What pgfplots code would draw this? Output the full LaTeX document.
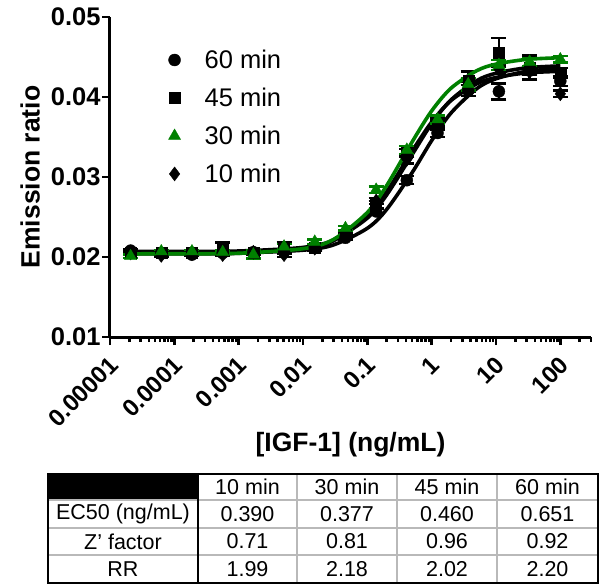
\documentclass[border=0pt]{standalone}
\usepackage{fontspec}
\setmainfont{Liberation Sans}
\usepackage{pgfplots}
\pgfplotsset{compat=1.18}
\definecolor{dgreen}{RGB}{0,128,0}

\pgfplotsset{
  pts/.style={only marks, mark size=6pt,
    error bars/y dir=both, error bars/y explicit,
    error bars/error bar style={line width=2.4pt},
    error bars/error mark options={rotate=90, mark size=7.5pt, line width=2.4pt}},
  fit/.style={line width=3.6pt, smooth, forget plot},
}

\begin{document}
\begin{tikzpicture}[x=1pt, y=1pt]
\path[use as bounding box] (-110,-247) rectangle (494,337);
\begin{axis}[
    at={(0,0)}, anchor=south west,
    scale only axis, width=481pt, height=320pt,
    xmode=log, xmin=1e-5, xmax=300, ymin=0.01, ymax=0.05,
    axis lines=left, axis line style={line width=3pt, -},
    tick align=outside, major tick length=8pt, minor tick length=5pt,
    every tick/.style={line width=2.4pt, black},
    xtick={1e-5,1e-4,1e-3,1e-2,1e-1,1,10,100},
    xticklabels={0.00001,0.0001,0.001,0.01,0.1,1,10,100},
    minor xtick={2e-5,3e-5,4e-5,5e-5,6e-5,7e-5,8e-5,9e-5,
                 2e-4,3e-4,4e-4,5e-4,6e-4,7e-4,8e-4,9e-4,
                 2e-3,3e-3,4e-3,5e-3,6e-3,7e-3,8e-3,9e-3,
                 0.02,0.03,0.04,0.05,0.06,0.07,0.08,0.09,
                 0.2,0.3,0.4,0.5,0.6,0.7,0.8,0.9,
                 2,3,4,5,6,7,8,9,20,30,40,50,60,70,80,90,200,300},
    ytick={0.01,0.02,0.03,0.04,0.05},
    scaled y ticks=false,
    /pgf/number format/assume math mode=true,
    yticklabel style={/pgf/number format/fixed, /pgf/number format/precision=2,
                      /pgf/number format/fixed zerofill,
                      font=\fontsize{25.5}{28}\selectfont\bfseries, xshift=2pt},
    xticklabel style={font=\fontsize{24}{28}\selectfont\bfseries,
                      rotate=45, anchor=north east, yshift=-2pt, xshift=-5pt},
    ylabel={Emission ratio},
    xlabel={[IGF-1] (ng/mL)},
    ylabel style={yshift=4pt},
    xlabel style={yshift=4pt},
    label style={font=\fontsize{26.5}{30}\selectfont\bfseries},
    legend style={draw=none, fill=none, at={(0.115,0.91)}, anchor=north west,
                  font=\fontsize{25.5}{28}\selectfont, row sep=14pt,
                  cells={anchor=west},
                  /tikz/every odd column/.append style={column sep=22pt}},
    legend cell align=left,
    clip=false,
  ]

% fitted curves (black)
\addplot[fit, black] coordinates {
  (2.09e-5,0.02050) (1e-4,0.02050) (1e-3,0.02054) (0.01,0.02085) (0.03,0.02152)
  (0.1,0.02359) (0.2,0.02595) (0.5,0.03058) (1,0.03455) (2,0.03800)
  (5,0.04103) (10,0.04228) (30,0.04321) (100,0.04355)};
\addplot[fit, black] coordinates {
  (2.09e-5,0.02070) (1e-4,0.02070) (1e-3,0.02075) (0.01,0.02120) (0.03,0.02213)
  (0.1,0.02486) (0.2,0.02776) (0.5,0.03283) (1,0.03666) (2,0.03964)
  (5,0.04204) (10,0.04297) (30,0.04365) (100,0.04389)};
\addplot[fit, black] coordinates {
  (2.09e-5,0.02040) (1e-4,0.02041) (1e-3,0.02046) (0.01,0.02097) (0.03,0.02204)
  (0.1,0.02507) (0.2,0.02816) (0.5,0.03327) (1,0.03687) (2,0.03956)
  (5,0.04164) (10,0.04244) (30,0.04301) (100,0.04321)};

% 60 min
\addplot[pts, black, mark=*, forget plot] coordinates {
  (2.09e-5,0.0208) +- (0,0.0002) (6.27e-5,0.0205) +- (0,0.0002)
  (1.88e-4,0.0203) +- (0,0.0002) (5.65e-4,0.0205) +- (0,0.0002)
  (1.694e-3,0.0206) +- (0,0.0003) (5.08e-3,0.0207) +- (0,0.0003)
  (1.524e-2,0.0212) +- (0,0.0003) (4.572e-2,0.0224) +- (0,0.0003)
  (0.1372,0.0257) +- (0,0.0004) (0.4115,0.0296) +- (0,0.0005)
  (1.235,0.0355) +- (0,0.0005) (3.704,0.0408) +- (0,0.0007)
  (11.11,0.0407) +- (0,0.0010) (33.33,0.0433) +- (0,0.0005)
  (100,0.0420) +- (0,0.0006)};
% 45 min
\addplot[pts, black, mark=square*, mark size=5.5pt, forget plot] coordinates {
  (2.09e-5,0.0206) +- (0,0.0002) (6.27e-5,0.0206) +- (0,0.0002)
  (1.88e-4,0.0206) +- (0,0.0002) (5.65e-4,0.0212) +- (0,0.0006)
  (1.694e-3,0.0206) +- (0,0.0003) (5.08e-3,0.0212) +- (0,0.0007)
  (1.524e-2,0.0212) +- (0,0.0003) (4.572e-2,0.0228) +- (0,0.0003)
  (0.1372,0.0265) +- (0,0.0005) (0.4115,0.0330) +- (0,0.0005)
  (1.235,0.0365) +- (0,0.0006) (3.704,0.0420) +- (0,0.0012)
  (11.11,0.0456) +- (0,0.0018) (33.33,0.0437) +- (0,0.0015)
  (100,0.0430) +- (0,0.0006)};
% 10 min
\addplot[pts, black, mark=diamond*, mark size=7pt, forget plot] coordinates {
  (2.09e-5,0.0205) +- (0,0.0002) (6.27e-5,0.0202) +- (0,0.0002)
  (1.88e-4,0.0204) +- (0,0.0002) (5.65e-4,0.0203) +- (0,0.0002)
  (1.694e-3,0.0206) +- (0,0.0003) (5.08e-3,0.0203) +- (0,0.0003)
  (1.524e-2,0.0211) +- (0,0.0003) (4.572e-2,0.0227) +- (0,0.0003)
  (0.1372,0.0270) +- (0,0.0004) (0.4115,0.0322) +- (0,0.0005)
  (1.235,0.0368) +- (0,0.0005) (3.704,0.0413) +- (0,0.0006)
  (11.11,0.0435) +- (0,0.0006) (33.33,0.0433) +- (0,0.0005)
  (100,0.0404) +- (0,0.0004)};

% 30 min (green)
\addplot[fit, dgreen] coordinates {
  (2.09e-5,0.02040) (1e-4,0.02041) (1e-3,0.02047) (0.01,0.02104) (0.03,0.02221)
  (0.1,0.02556) (0.2,0.02893) (0.5,0.03442) (1,0.03826) (2,0.04110)
  (5,0.04328) (10,0.04411) (30,0.04470) (100,0.04491)};
\addplot[pts, dgreen, mark=triangle*, mark size=7pt, forget plot] coordinates {
  (2.09e-5,0.0201) +- (0,0.0002) (6.27e-5,0.0207) +- (0,0.0002)
  (1.88e-4,0.0207) +- (0,0.0002) (5.65e-4,0.0206) +- (0,0.0002)
  (1.694e-3,0.0203) +- (0,0.0005) (5.08e-3,0.0213) +- (0,0.0003)
  (1.524e-2,0.0219) +- (0,0.0003) (4.572e-2,0.0236) +- (0,0.0003)
  (0.1372,0.0284) +- (0,0.0004) (0.4115,0.0334) +- (0,0.0005)
  (1.235,0.0372) +- (0,0.0005) (3.704,0.0416) +- (0,0.0008)
  (11.11,0.0440) +- (0,0.0006) (33.33,0.0444) +- (0,0.0005)
  (100,0.0447) +- (0,0.0004)};

\addlegendimage{only marks, black, mark=*, mark size=6pt}
\addlegendentry{60 min}
\addlegendimage{only marks, black, mark=square*, mark size=5.5pt}
\addlegendentry{45 min}
\addlegendimage{only marks, dgreen, mark=triangle*, mark size=7pt}
\addlegendentry{30 min}
\addlegendimage{only marks, black, mark=diamond*, mark size=7pt}
\addlegendentry{10 min}
\end{axis}

% results table
\fill[black] (-62,-137) rectangle (88,-163);
\draw[gray!55, line width=1.2pt]
  (-62,-163) -- (488,-163) (-62,-191) -- (488,-191) (-62,-218) -- (488,-218)
  (187,-137) -- (187,-246) (287,-137) -- (287,-246) (387,-137) -- (387,-246);
\draw[black, line width=2.6pt] (-62,-137) rectangle (488,-246);
\draw[black, line width=2.6pt] (88,-137) -- (88,-246);
\begin{scope}[every node/.style={font=\fontsize{21.5}{24}\selectfont, anchor=center, inner sep=0pt}]
  \node at (137.5,-150) {10 min};
  \node at (237,-150) {30 min};
  \node at (337,-150) {45 min};
  \node at (437.5,-150) {60 min};
  \node at (13,-177) {EC50 (ng/mL)};
  \node at (137.5,-177) {0.390};
  \node at (237,-177) {0.377};
  \node at (337,-177) {0.460};
  \node at (437.5,-177) {0.651};
  \node at (13,-204.5) {Z' factor};
  \node at (137.5,-204.5) {0.71};
  \node at (237,-204.5) {0.81};
  \node at (337,-204.5) {0.96};
  \node at (437.5,-204.5) {0.92};
  \node at (13,-232) {RR};
  \node at (137.5,-232) {1.99};
  \node at (237,-232) {2.18};
  \node at (337,-232) {2.02};
  \node at (437.5,-232) {2.20};
\end{scope}
\end{tikzpicture}
\end{document}
